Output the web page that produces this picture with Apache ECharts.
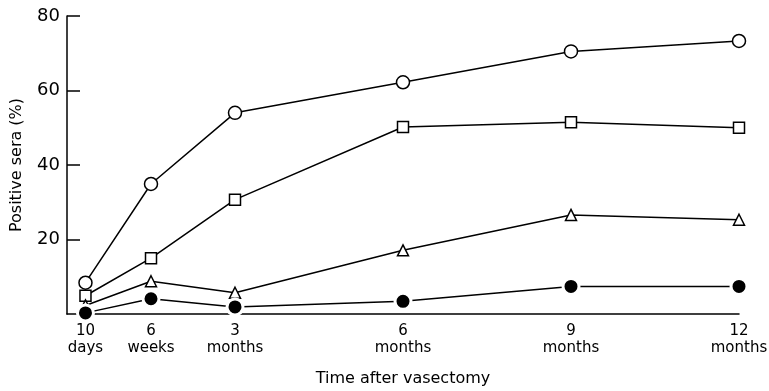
<!DOCTYPE html>
<html><head><meta charset="utf-8">
<script src="https://cdn.jsdelivr.net/npm/echarts@6/dist/echarts.min.js"></script>
<style>html,body{margin:0;padding:0;background:#fff}#c{width:769px;height:391px}</style>
</head><body><div id="c"></div>
<script>
// x positions in months after vasectomy
var xMonths = [0.33, 1.5, 3, 6, 9, 12];
var xTickLabels = ['10\ndays', '6\nweeks', '3\nmonths', '6\nmonths', '9\nmonths', '12\nmonths'];
var yTicks = [20, 40, 60, 80];
var openCircle = [8.4, 34.9, 54, 62.2, 70.5, 73.3];
var openSquare = [4.9, 15, 30.7, 50.2, 51.5, 50];
var openTriangle = [2.3, 8.8, 5.7, 17.1, 26.6, 25.3];
var filledCircle = [0.3, 4.1, 1.9, 3.4, 7.4, 7.4];

function pairs(vals){ return xMonths.map(function(x,i){ return [x, vals[i]]; }); }
var FONT = 'DejaVu Sans';
var baseLine = {color:'#000', width:1.5};
function openSeries(vals, symbol, size){
  return {type:'line', data:pairs(vals), symbol:symbol, symbolSize:size, showSymbol:true,
    lineStyle:baseLine, itemStyle:{color:'#fff', borderColor:'#000', borderWidth:1.5}, z:3, animation:false};
}
var chart = echarts.init(document.getElementById('c'));
chart.setOption({
  animation:false,
  backgroundColor:'#fff',
  grid:{left:67, right:30, top:16, bottom:77, outerBoundsMode:'none', containLabel:false},
  xAxis:{type:'value', min:0, max:12,
    axisLine:{show:true, lineStyle:{color:'#000', width:1.5}},
    axisTick:{show:false}, splitLine:{show:false},
    axisLabel:{customValues:xMonths, color:'#000', fontFamily:FONT, fontSize:15, lineHeight:17, margin:9,
      formatter:function(v){ var i = xMonths.indexOf(v); return i>=0 ? xTickLabels[i] : ''; }},
    name:'Time after vasectomy', nameLocation:'middle', nameGap:57,
    nameTextStyle:{color:'#000', fontFamily:FONT, fontSize:16}
  },
  yAxis:{type:'value', min:0, max:80,
    axisLine:{show:true, lineStyle:{color:'#000', width:1.5}},
    axisTick:{show:true, inside:true, length:13, customValues:yTicks, lineStyle:{color:'#000', width:1.5}},
    splitLine:{show:false},
    axisLabel:{customValues:yTicks, color:'#000', fontFamily:FONT, fontSize:18, margin:7},
    name:'Positive sera (%)', nameLocation:'middle', nameGap:42, nameRotate:90,
    nameTextStyle:{color:'#000', fontFamily:FONT, fontSize:16}
  },
  series:[
    openSeries(openCircle, 'circle', 13),
    openSeries(openSquare, 'rect', 11),
    openSeries(openTriangle, 'triangle', 11),
    {type:'line', data:pairs(filledCircle), symbol:'circle', symbolSize:16, showSymbol:true,
      lineStyle:baseLine, itemStyle:{color:'#000', borderColor:'#fff', borderWidth:3}, z:4, animation:false}
  ]
});
</script></body></html>
